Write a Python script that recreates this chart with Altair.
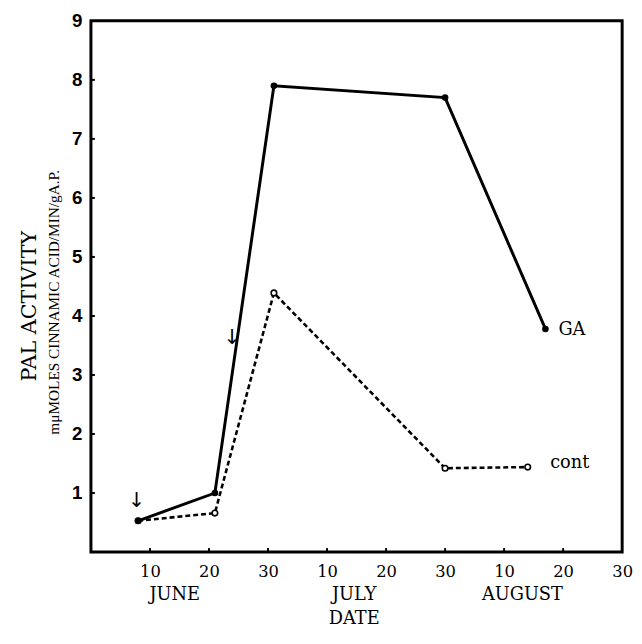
import altair as alt
import pandas as pd

# Day index: June d -> d, July d -> 30 + d, August d -> 60 + d (chart spacing is uniform)
ga_day = [8, 21, 31, 60, 77]
ga_val = [0.53, 1.0, 7.9, 7.7, 3.78]
cont_day = [8, 21, 31, 60, 74]
cont_val = [0.53, 0.66, 4.39, 1.42, 1.44]

x_tick_values = [10, 20, 30, 40, 50, 60, 70, 80, 90]
y_tick_values = [1, 2, 3, 4, 5, 6, 7, 8, 9]
months = ["JUNE", "JULY", "AUGUST"]
month_pos = [14.2, 44.6, 73.1]

arrow_day = [7.7, 23.9]
arrow_val = [0.87, 3.63]

label_day = [79.2, 77.8]
label_val = [3.76, 1.5]
label_txt = ["GA", "cont"]

W, H = 538, 538
SERIF = "DejaVu Serif"

xs = alt.Scale(domain=[0, 90], nice=False, zero=False)
ys = alt.Scale(domain=[0, 9], nice=False, zero=False)

x_axis = alt.Axis(
    values=x_tick_values,
    labelExpr="datum.value % 30 == 0 ? '30' : '' + (datum.value % 30)",
    title=None, domain=False, ticks=False, grid=False,
    labelFont=SERIF, labelFontSize=16.5, labelColor="black",
    labelPadding=12, labelFlush=False, labelOverlap=False,
)
y_axis = alt.Axis(
    values=y_tick_values, title=None, domain=False, ticks=False, grid=False,
    labelFont="Liberation Sans", labelFontSize=19, labelFontWeight="bold", labelColor="black",
    labelPadding=9,
)

X = alt.X("day:Q", scale=xs, axis=x_axis)
Y = alt.Y("val:Q", scale=ys, axis=y_axis)

ga_df = pd.DataFrame({"day": ga_day, "val": ga_val})
cont_df = pd.DataFrame({"day": cont_day, "val": cont_val})

ga_line = alt.Chart(ga_df).mark_line(color="black", strokeWidth=3).encode(x=X, y=Y)
ga_pts = alt.Chart(ga_df).mark_point(filled=True, color="black", size=45, opacity=1).encode(x=X, y=Y)
cont_line = alt.Chart(cont_df).mark_line(color="black", strokeWidth=2.6, strokeDash=[5, 3]).encode(x=X, y=Y)
cont_pts = alt.Chart(cont_df).mark_point(filled=True, fill="white", stroke="black", strokeWidth=1.6,
                                         size=32, opacity=1).encode(x=X, y=Y)

arrows = alt.Chart(pd.DataFrame({"day": arrow_day, "val": arrow_val})).mark_text(
    text="↓", font="DejaVu Sans", fontSize=21, color="#000000", fontWeight="normal"
).encode(x=X, y=Y)

labels = alt.Chart(pd.DataFrame({"day": label_day, "val": label_val, "t": label_txt})).mark_text(
    align="left", baseline="middle", font=SERIF, fontSize=18, color="black"
).encode(x=X, y=Y, text="t:N")

xticks = alt.Chart(pd.DataFrame({"day": x_tick_values[:-1]})).mark_rule(color="black", strokeWidth=2).encode(
    x=X, y=alt.value(H), y2=alt.value(H - 4),
)
yticks = alt.Chart(pd.DataFrame({"val": y_tick_values[:-1]})).mark_rule(color="black", strokeWidth=2).encode(
    y=Y, x=alt.value(0), x2=alt.value(4),
)

month_txt = alt.Chart(pd.DataFrame({"day": month_pos, "m": months})).mark_text(
    font=SERIF, fontSize=18, color="black", baseline="middle"
).encode(x=X, y=alt.value(H + 44), text="m:N")
date_txt = alt.Chart(pd.DataFrame({"day": [44.6], "m": ["DATE"]})).mark_text(
    font=SERIF, fontSize=18, color="black", baseline="middle"
).encode(x=X, y=alt.value(H + 68), text="m:N")

ytitle1 = alt.Chart(pd.DataFrame({"t": ["PAL ACTIVITY"]})).mark_text(
    font=SERIF, fontSize=21, angle=270, color="black", baseline="middle"
).encode(x=alt.value(-62), y=alt.value(289), text="t:N")
ytitle2 = alt.Chart(pd.DataFrame({"t": ["mμMOLES CINNAMIC ACID/MIN/gA.P."]})).mark_text(
    font="Liberation Serif", fontSize=15.5, angle=270, color="black", baseline="middle"
).encode(x=alt.value(-37), y=alt.value(285), text="t:N")

chart = alt.layer(
    xticks, yticks, cont_line, ga_line, cont_pts, ga_pts, arrows, labels,
    month_txt, date_txt, ytitle1, ytitle2
).properties(
    width=W, height=H, autosize="none",
    padding={"left": 84, "top": 9, "right": 12, "bottom": 80},
    background="white",
).configure_view(stroke="black", strokeWidth=3)

chart.save("out.html", embed_options={"renderer": "svg", "actions": False})
